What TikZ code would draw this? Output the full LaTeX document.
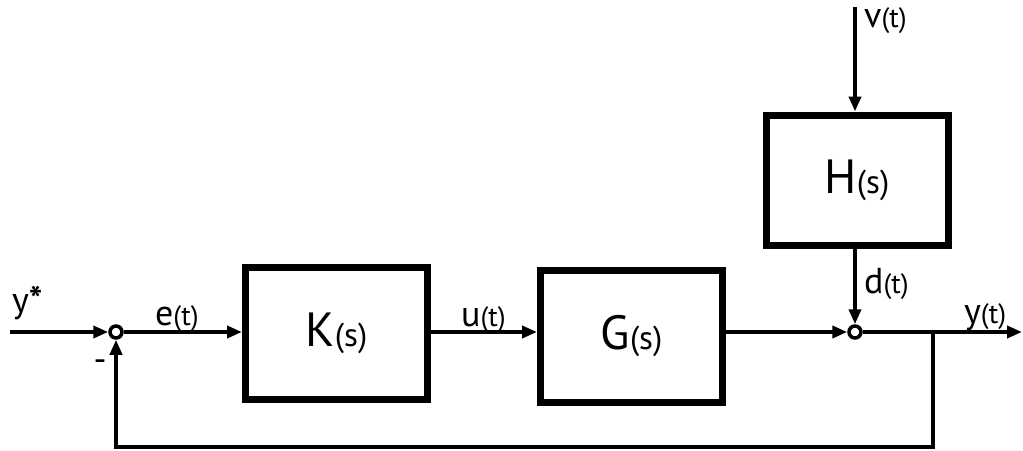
\documentclass[tikz,border=0pt]{standalone}
\usepackage{fontspec}
\setmainfont{PT Sans}
\usetikzlibrary{arrows.meta}
\begin{document}
\begin{tikzpicture}[x=1pt,y=-1pt,
  block/.style={draw,line width=7pt,minimum width=182pt,minimum height=132pt,inner sep=0pt,
                font=\fontsize{48}{52}\selectfont},
  sumpt/.style={circle,draw,line width=3.5pt,minimum size=12pt,inner sep=0pt},
  sig/.style={line width=4.5pt,-{Triangle[length=15pt,width=12pt]}},
  wire/.style={line width=4.5pt},
  lbl/.style={inner sep=0pt,anchor=base west,font=\fontsize{36}{40}\selectfont}]
% signal labels: letter followed by a smaller argument
\newcommand{\argt}[1]{{\fontsize{28}{32}\selectfont(#1)}}
\newcommand{\args}[1]{{\fontsize{33}{38}\selectfont(#1)}}
\useasboundingbox[fill=white] (0,0) rectangle (1023,450);

% blocks
\node[block] (K) at (336.5,333.5) {K\args{s}};
\node[block] (G) at (631.5,336.5) {G\args{s}};
\node[block,minimum height=130pt] (H) at (857,180) {H\args{s}};

% summing junctions
\node[sumpt] (S1) at (116,332) {};
\node[sumpt] (S2) at (855,332) {};

% free ends
\coordinate (in) at (10,332);
\coordinate (out) at (1022,332);
\coordinate (vin) at (855,7);
\coordinate (br) at (933,332);
\coordinate (fb1) at (933,447);
\coordinate (fb2) at (116,447);

% forward path (all on the line y = 332)
\draw[sig] (in) -- (S1.west);
\draw[sig] (S1.east) -- (K.west |- S1);
\draw[sig] (K.east |- S1) -- (G.west |- S1);
\draw[sig] (G.east |- S1) -- (S2.west);
\draw[sig] (S2.east) -- (out);

% disturbance path
\draw[sig] (vin) -- (H.north -| vin);
\draw[sig] (H.south -| S2) -- (S2.north);

% feedback loop
\draw[wire,line join=miter] (br) -- (fb1) -- (fb2) -- ++(0,-2);
\draw[sig] (fb2) -- (S1.south);

% labels
\node[lbl] (ys) at (12,312) {y\textbf{*}};
\node[lbl] (e) at (155,325) {e\argt{t}};
\node[lbl] (u) at (461,326) {u\argt{t}};
\node[lbl] (d) at (864,293) {d\argt{t}};
\node[lbl] (y) at (964,323) {y\argt{t}};
\node[lbl] (v) at (864,27) {v\argt{t}};
\node[lbl,anchor=center,font=\fontsize{36}{38}\selectfont] (minus) at (100,366) {-};
\end{tikzpicture}
\end{document}
